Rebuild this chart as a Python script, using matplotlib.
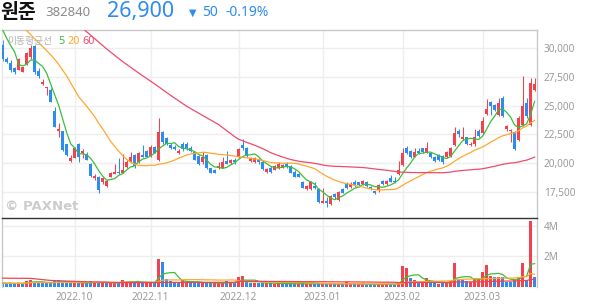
import numpy as np
import pandas as pd
import matplotlib
matplotlib.use("Agg")
import matplotlib.pyplot as plt

plt.rcParams["font.family"] = ["Noto Sans CJK KR", "DejaVu Sans"]

W, H = 594, 304

# daily candles, Sep 2022 - Mar 2023
opens = [30300, 29050, 28700, 28250, 28150, 27950, 28650, 29250, 30200, 28050,
         26900, 26500, 26400, 24550, 22800, 22750, 21650, 20200, 20450, 21650,
         20850, 20750, 19950, 18650, 18800, 18300, 18000, 18800, 19050, 19250,
         19150, 19650, 20100, 20700, 20100, 20700, 21050, 20600, 21400, 20250,
         22700, 22150, 21600, 21400, 20850, 21700, 21700, 21350, 21000, 20600,
         20050, 20700, 19550, 19400, 19550, 19600, 20200, 20000, 20300, 20500,
         21550, 21350, 20200, 20100, 20300, 20100, 19250, 19550, 19400, 19550,
         19600, 19900, 19750, 19250, 19050, 18350, 17700, 17700, 18000, 17700,
         16550, 16700, 16400, 17300, 16750, 17700, 18150, 17950, 18300, 18300,
         18150, 18350, 17950, 17550, 17650, 18450, 18150, 18650, 18450, 19050,
         19800, 21350, 21050, 20550, 21050, 21300, 20900, 20850, 20550, 20700,
         20600, 20550, 20600, 21550, 22750, 22050, 22250, 21550, 21700, 22750,
         22600, 24250, 25350, 25050, 24200, 25700, 22950, 22750, 22700, 22000,
         23300, 25250, 23300, 26400]
highs = [30700, 29250, 28950, 28400, 29200, 28400, 29700, 30300, 30300, 28250,
         27350, 26650, 26500, 24900, 23450, 22800, 21700, 20700, 21400, 21750,
         21200, 21000, 20000, 19050, 18850, 18800, 18500, 19250, 19950, 20400,
         20750, 20300, 21000, 20800, 21000, 21550, 21150, 21550, 21450, 23950,
         22800, 22300, 21750, 21550, 21200, 21800, 21850, 21450, 21050, 20700,
         21000, 20800, 19600, 19450, 20050, 20550, 21050, 20350, 20400, 21350,
         22050, 21400, 20550, 20500, 20400, 20200, 19550, 19700, 19850, 20100,
         19950, 20050, 19850, 19350, 19150, 18450, 18100, 18450, 18350, 17800,
         17800, 17050, 17200, 17400, 17600, 17800, 18350, 18300, 18550, 18350,
         18550, 18450, 18000, 17600, 18200, 18500, 18500, 18950, 18800, 20200,
         21350, 21500, 21150, 21350, 21300, 21350, 21850, 20900, 20600, 20800,
         20700, 21050, 21400, 23150, 22950, 23150, 22300, 21850, 22950, 23000,
         24050, 25550, 25450, 25150, 25650, 25800, 23300, 22950, 22800, 24100,
         27600, 25650, 27450, 27400]
lows = [28900, 28700, 27900, 27800, 28100, 27900, 28550, 29100, 27800, 27450,
        26800, 25950, 25300, 23100, 22300, 21050, 20600, 20100, 20400, 20100,
        20400, 20250, 18750, 18550, 17400, 18200, 17950, 18750, 19000, 19000,
        19100, 19600, 20000, 19600, 20000, 20500, 20500, 20550, 20850, 20200,
        21700, 21550, 21250, 21150, 20800, 21050, 21150, 20950, 20250, 19800,
        19950, 19450, 19100, 19100, 19450, 19550, 19900, 19950, 19950, 20400,
        21150, 20550, 20100, 20000, 19950, 19400, 19150, 19150, 19350, 19450,
        19550, 19600, 19100, 18750, 18750, 17800, 17650, 17650, 17750, 16550,
        16500, 16150, 16350, 16900, 16700, 17350, 17700, 17850, 17950, 17950,
        18100, 17900, 17650, 17300, 17500, 18100, 18100, 18300, 18250, 18950,
        19750, 20800, 20400, 20500, 20800, 20850, 20850, 20400, 20100, 20200,
        19950, 20400, 20550, 21450, 22300, 22000, 21550, 21450, 21450, 22250,
        22550, 24150, 24200, 24550, 24100, 24050, 22750, 21850, 21150, 21950,
        23200, 23950, 23200, 26300]
closes = [29050, 28850, 28100, 27900, 29100, 28350, 29600, 30000, 27900, 27550,
          27100, 26600, 25350, 23150, 23000, 21150, 20700, 20400, 21350, 20500,
          21050, 20300, 18850, 18900, 17650, 18650, 18450, 19150, 19250, 19100,
          19400, 20050, 20500, 19700, 20900, 20550, 20550, 21400, 20900, 22700,
          21850, 21700, 21350, 21250, 21050, 21200, 21300, 21050, 20300, 19900,
          20550, 19550, 19150, 19150, 19750, 20050, 19950, 20250, 20050, 21250,
          21300, 20600, 20400, 20400, 20050, 19450, 19450, 19250, 19750, 19950,
          19800, 19750, 19150, 18800, 18800, 17850, 18000, 18350, 17800, 16600,
          16700, 16550, 17100, 17050, 17500, 17400, 17800, 18150, 18100, 18100,
          18450, 18000, 17800, 17350, 18100, 18150, 18450, 18350, 18300, 19400,
          20850, 20900, 20500, 21000, 20900, 21000, 21350, 20500, 20200, 20250,
          20050, 21000, 21300, 22600, 22550, 22250, 21700, 21700, 22250, 22350,
          23700, 24750, 24950, 24600, 25200, 24100, 23250, 22850, 21200, 23950,
          24950, 24100, 26950, 26900]
volumes_k = [230, 200, 220, 180, 250, 200, 380, 400, 300, 250,
             220, 200, 250, 420, 400, 300, 250, 220, 260, 230,
             220, 200, 380, 260, 300, 220, 200, 230, 250, 280,
             450, 280, 300, 260, 380, 250, 230, 220, 250, 1820,
             1640, 490, 380, 300, 280, 450, 300, 280, 250, 270,
             250, 230, 220, 210, 200, 220, 380, 250, 230, 600,
             710, 300, 260, 240, 250, 220, 200, 210, 190, 200,
             180, 170, 200, 180, 170, 220, 160, 180, 150, 220,
             170, 160, 180, 150, 160, 170, 270, 160, 150, 140,
             150, 130, 140, 150, 160, 140, 150, 170, 160, 260,
             1380, 1220, 560, 420, 300, 300, 560, 300, 200, 150,
             230, 280, 380, 1560, 500, 450, 380, 300, 550, 490,
             980, 1420, 710, 640, 600, 600, 300, 300, 450, 600,
             1560, 450, 4310, 640]

# moving-average parts that come from days before the window
ma5_head = [31600, 30900, 30250, 29700]
ma20_head_idx = list(range(5, 19))
ma20_head = [31900, 31550, 31200, 30850, 30500, 30150, 29800, 29450, 29050,
             28600, 28100, 27600, 27000, 26400]
ma60_head_idx = [20, 22, 26, 30, 34, 38, 42, 46, 50, 54, 58]
ma60_head = [31750, 31150, 29950, 28850, 27850, 26900, 25900, 24950, 24150,
             23350, 22300]
vol_ma60_head_idx = [0, 7, 12, 20, 30, 45, 58]
vol_ma60_head = [550, 540, 400, 320, 260, 270, 280]

month_idx = [18, 37, 59, 80, 100, 120]
month_labels = ["2022.10", "2022.11", "2022.12", "2023.01", "2023.02", "2023.03"]
price_ticks = [17500, 20000, 22500, 25000, 27500, 30000]
vol_ticks = [2000000, 4000000]
vol_tick_labels = ["2M", "4M"]

RED = "#f5414f"
BLUE = "#2e8cf0"
GREEN = "#3cbd3c"
ORANGE = "#ffa82e"
PINK = "#f04a6e"
GRID = "#eeeeee"
TICK = "#9a9a9a"

df = pd.DataFrame({"open": opens, "high": highs, "low": lows, "close": closes,
                   "vol": np.array(volumes_k) * 1000})
n = len(df)
idx = np.arange(n)
up = df.close >= df.open
prev = df.close.shift(1).fillna(df.open)
vol_up = df.close >= prev


def ma_line(series, win, head_idx, head_vals):
    m = series.rolling(win).mean()
    xs = list(head_idx) + list(idx[win - 1:])
    ys = list(head_vals) + list(m.values[win - 1:])
    return xs, ys


fig = plt.figure(figsize=(W / 100, H / 100), dpi=100)
ax = fig.add_axes([1.5 / W, 1 - 217 / H, 535.5 / W, 187 / H])
axv = fig.add_axes([1.5 / W, 1 - 286.5 / H, 535.5 / W, 69 / H], sharex=ax)

for a in (ax, axv):
    for m in month_idx:
        a.axvline(m, color=GRID, lw=1, zorder=0)
for p in price_ticks:
    ax.axhline(p, color=GRID, lw=1, zorder=0)
for v in vol_ticks:
    axv.axhline(v, color=GRID, lw=1, zorder=0)

# candles
cols = np.where(up, RED, BLUE)
ax.vlines(idx, df.low, df.high, colors=cols, lw=0.75, zorder=2)
body = (df.close - df.open).abs().clip(lower=40)
ax.bar(idx, body, bottom=df[["open", "close"]].min(axis=1), width=0.75,
       color=cols, lw=0, zorder=3)

xs, ys = ma_line(df.close, 5, range(4), ma5_head)
ax.plot(xs, ys, color=GREEN, lw=0.9, zorder=4)
xs, ys = ma_line(df.close, 20, ma20_head_idx, ma20_head)
ax.plot(xs, ys, color=ORANGE, lw=0.9, zorder=4)
xs, ys = ma_line(df.close, 60, ma60_head_idx, ma60_head)
ax.plot(xs, ys, color=PINK, lw=0.9, zorder=4)

# volume
axv.bar(idx, df.vol, width=0.75, color=np.where(vol_up, RED, BLUE), lw=0, zorder=2)
axv.plot(idx, df.vol.rolling(5, min_periods=1).mean(), color=GREEN, lw=0.9, zorder=3)
axv.plot(idx, df.vol.rolling(20, min_periods=1).mean(), color=ORANGE, lw=0.9, zorder=3)
xs, ys = ma_line(df.vol, 60, vol_ma60_head_idx, np.array(vol_ma60_head) * 1000)
axv.plot(xs, ys, color=RED, lw=0.9, zorder=3)

ax.set_xlim(-0.28, 133.6)
ax.set_ylim(15290, 31600)
axv.set_ylim(0, 4570000)

for a in (ax, axv):
    a.yaxis.tick_right()
    a.tick_params(axis="y", length=0, pad=5, labelsize=7.2, labelcolor=TICK)
    a.tick_params(axis="x", length=0)
    for s in a.spines.values():
        s.set_color("#c8c8c8")
        s.set_linewidth(1)
ax.spines["left"].set_color("#e6e6e6")
axv.spines["left"].set_color("#c8c8c8")
ax.spines["bottom"].set_visible(False)
axv.spines["top"].set_color("#333333")
axv.spines["bottom"].set_visible(False)

ax.set_yticks(price_ticks)
ax.set_yticklabels([f"{p:,}" for p in price_ticks], family="Noto Sans")
axv.set_yticks(vol_ticks)
axv.set_yticklabels(vol_tick_labels, family="Noto Sans")
plt.setp(ax.get_xticklabels(), visible=False)
axv.set_xticks(month_idx)
axv.set_xticklabels(month_labels, family="Noto Sans", fontsize=7.2, color=TICK)
axv.tick_params(axis="x", pad=4)


def px(x, y):
    return x / W, 1 - y / H


fig.text(*px(0, 12), "원준", fontsize=14, weight="bold", color="#111111", va="center")
fig.text(*px(45, 12), "382840", fontsize=9.5, color="#8c8c8c", va="center", family="Noto Sans")
fig.text(*px(107, 12), "26,900", fontsize=15.5, color=BLUE, va="center", family="Noto Sans")
fig.text(*px(189, 12.5), "▼", fontsize=7, color=BLUE, va="center", family="DejaVu Sans")
fig.text(*px(202, 12), "50", fontsize=10, color=BLUE, va="center", family="Noto Sans")
fig.text(*px(225, 12), "-0.19%", fontsize=10, color=BLUE, va="center", family="Noto Sans")

fig.text(*px(7, 41), "이동평균선", fontsize=7, color="#b4b4b4", va="center")
fig.text(*px(58, 41), "5", fontsize=7.8, color=GREEN, va="center", family="Noto Sans")
fig.text(*px(67, 41), "20", fontsize=7.8, color=ORANGE, va="center", family="Noto Sans")
fig.text(*px(82, 41), "60", fontsize=7.8, color=PINK, va="center", family="Noto Sans")

fig.text(*px(5, 207), "© PAXNet", fontsize=9.5, weight="bold", color="#cccccc",
         va="center", family="DejaVu Sans")

fig.savefig("out.png", dpi=100)
